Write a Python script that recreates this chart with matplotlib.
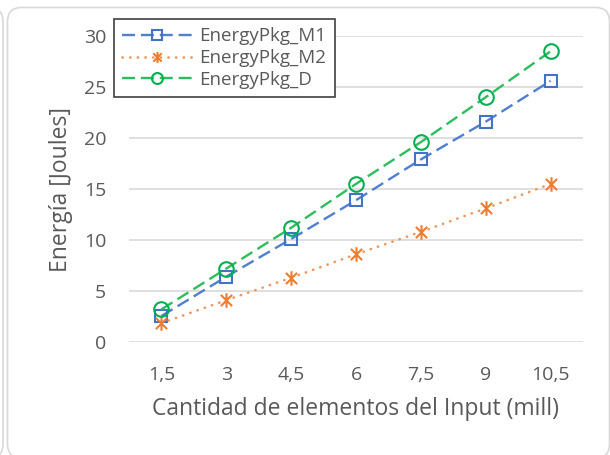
import matplotlib
matplotlib.use('Agg')
import matplotlib.pyplot as plt
from matplotlib.patches import FancyBboxPatch
from matplotlib.path import Path
from matplotlib.transforms import IdentityTransform

# data
categories = ['1,5', '3', '4,5', '6', '7,5', '9', '10,5']
m1 = [2.55, 6.4, 10.1, 13.9, 17.9, 21.6, 25.6]
m2 = [1.85, 4.1, 6.3, 8.6, 10.8, 13.1, 15.5]
d = [3.2, 7.2, 11.2, 15.5, 19.6, 24.0, 28.5]

plt.rcParams['font.family'] = ['Open Sans', 'DejaVu Sans']
txt = '#595959'
grid = '#d9d9d9'
W, H = 610, 455

# Excel-like asterisk: an x plus a vertical bar
star = Path([(-1, -1), (1, 1), (-1, 1), (1, -1), (0, -1.3), (0, 1.3)],
            [Path.MOVETO, Path.LINETO, Path.MOVETO, Path.LINETO, Path.MOVETO, Path.LINETO])

fig = plt.figure(figsize=(W / 100, H / 100), dpi=100)

# chart frame (rounded, in pixels) and the edge of the neighbouring chart
fig.patches.append(FancyBboxPatch((7.5, -3), 602, H - 7.5 + 3,
                                  boxstyle='round,pad=0,rounding_size=14',
                                  transform=IdentityTransform(), fill=False,
                                  edgecolor=grid, linewidth=1.2))
fig.patches.append(FancyBboxPatch((-300, -3), 303, H - 7.5 + 3,
                                  boxstyle='round,pad=0,rounding_size=14',
                                  transform=IdentityTransform(), fill=False,
                                  edgecolor=grid, linewidth=1.2))

ax = fig.add_axes([129 / W, 1 - 342 / H, 454 / W, 306 / H])
x = range(len(categories))

ax.plot(x, m1, color='#4f7fd0', lw=1.7, linestyle=(0, (5.5, 2.5)),
        marker='s', ms=9, mfc='none', mec='#4472c4', mew=1.5, label='EnergyPkg_M1')
ax.plot(x, m2, color='#f0965a', lw=1.9, linestyle=(0, (0.1, 2.8)), dash_capstyle='round',
        marker=star, ms=10.5, mfc='none', mec='#ed7d31', mew=1.5, label='EnergyPkg_M2')
ax.plot(x, d, color='#2dbd5e', lw=1.7, linestyle=(0, (5.5, 2.5)),
        marker='o', ms=10.5, mfc='none', mec='#00b050', mew=1.5, label='EnergyPkg_D')

ax.set_xlim(-0.5, len(categories) - 0.5)
ax.set_ylim(0, 30)
ax.set_yticks(range(0, 31, 5))
ax.set_xticks(list(x))
ax.set_xticklabels(categories)
ax.yaxis.grid(True, color=grid, lw=1.2)
ax.set_axisbelow(True)
for s in ax.spines.values():
    s.set_visible(False)
ax.tick_params(length=0, labelsize=14, labelcolor=txt)
ax.tick_params(axis='y', pad=16.5)
ax.tick_params(axis='x', pad=17)

ax.set_xlabel('Cantidad de elementos del Input (mill)', fontsize=16.5, color=txt, va='center')
ax.xaxis.set_label_coords(0.5, (342 - 409) / 306)
ax.set_ylabel('Energía [Joules]', fontsize=16.5, color=txt, va='center')
ax.yaxis.set_label_coords((61 - 129) / 454, 0.5)

leg = ax.legend(loc='upper left', bbox_to_anchor=((114 - 129) / 454, (342 - 19) / 306),
                fontsize=13.5, frameon=True, fancybox=False, borderpad=0.45,
                labelspacing=0.2, handlelength=3.7, handletextpad=0.4,
                borderaxespad=0, markerscale=0.75)
leg.get_frame().set_edgecolor('#404040')
leg.get_frame().set_linewidth(1.2)
leg.get_frame().set_alpha(1)
for t in leg.get_texts():
    t.set_color(txt)

plt.savefig('out.png', dpi=100)
plt.close()
